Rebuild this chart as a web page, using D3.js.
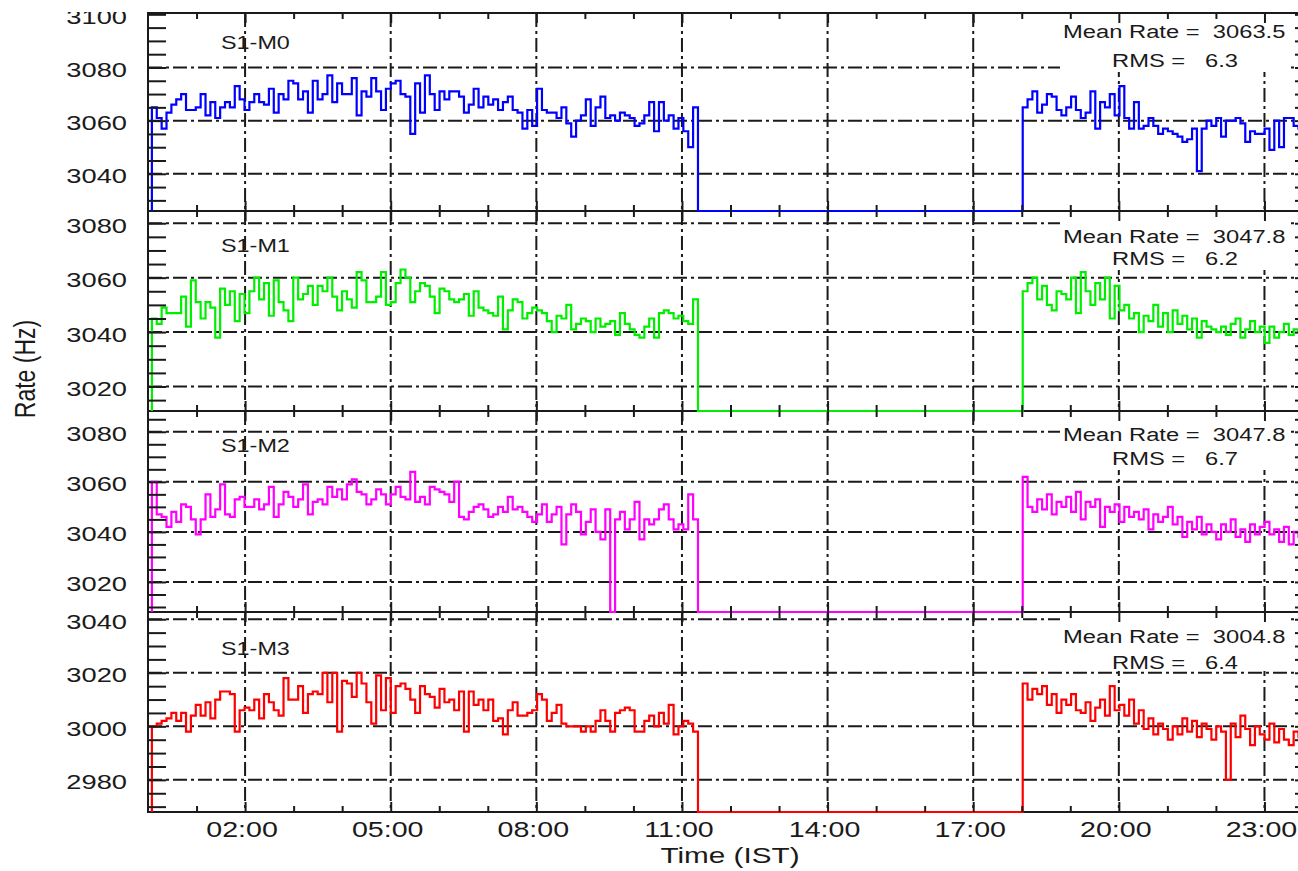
<!DOCTYPE html>
<html><head><meta charset="utf-8">
<script src="https://cdn.jsdelivr.net/npm/d3@7"></script>
<style>
body{margin:0;background:#fff;}
svg{display:block;font-family:"Liberation Sans",Arial,sans-serif;}
</style></head><body>
<svg id="c" width="1298" height="871"></svg>
<script>
// ---------------- DATA ----------------
const panelNames = ["S1-M0", "S1-M1", "S1-M2", "S1-M3"];
const meanRates = ["3063.5", "3047.8", "3047.8", "3004.8"];
const rmsValues = ["6.3", "6.2", "6.7", "6.4"];
const lineColors = ["#0000ff", "#00ee00", "#ff00ff", "#ff0000"];
const yDomains = [[3026, 3100.5], [3011, 3084.5], [3008, 3088.3], [2968, 3042.7]];
const yTickValues = [[3040, 3060, 3080, 3100], [3020, 3040, 3060, 3080], [3020, 3040, 3060, 3080], [2980, 3000, 3020, 3040]];
const xTickHours = [2, 5, 8, 11, 14, 17, 20, 23];
const xTickLabels = ["02:00", "05:00", "08:00", "11:00", "14:00", "17:00", "20:00", "23:00"];
const xDomainHours = [0, 24];
const morningStart = 0.08, morningEnd = 11.33;
const eveningStart = 18.02, eveningEnd = 24.0;

const m0Morning = [3065,3061,3057,3063,3066,3068,3070,3064,3064,3065,
 3070,3062,3067,3061,3065,3067,3065,3073,3068,3064,
 3067,3070,3067,3066,3072,3063,3070,3068,3075,3074,
 3068,3071,3063,3075,3068,3070,3077,3067,3074,3070,
 3070,3076,3062,3071,3069,3076,3071,3064,3072,3074,
 3075,3070,3069,3055,3074,3063,3077,3070,3064,3071,
 3068,3071,3071,3069,3063,3066,3072,3065,3069,3066,
 3068,3064,3067,3069,3064,3063,3057,3064,3058,3072,
 3064,3063,3063,3061,3065,3059,3054,3060,3062,3068,
 3058,3065,3069,3061,3062,3060,3063,3062,3061,3058,
 3059,3062,3067,3056,3067,3060,3062,3057,3061,3056,
 3050,3065];
const m0Evening = [3065,3068,3071,3063,3066,3070,3069,3064,3062,3065,
 3069,3064,3061,3063,3071,3057,3067,3065,3070,3062,
 3073,3061,3057,3067,3057,3058,3061,3058,3055,3057,
 3056,3055,3054,3052,3053,3057,3041,3057,3060,3058,
 3061,3054,3060,3060,3061,3059,3052,3056,3055,3055,
 3057,3049,3060,3050,3061,3061,3058,3057,3059,3056];

const m1Morning = [3045,3043,3049,3047,3047,3047,3053,3042,3059,3051,
 3045,3051,3049,3038,3056,3050,3055,3044,3054,3047,
 3055,3060,3052,3058,3046,3059,3051,3048,3044,3060,
 3052,3054,3057,3050,3057,3055,3060,3053,3048,3055,
 3052,3049,3062,3059,3051,3051,3053,3062,3050,3051,
 3058,3063,3060,3051,3055,3058,3057,3053,3047,3056,
 3055,3052,3051,3052,3054,3046,3055,3049,3048,3047,
 3046,3053,3041,3048,3052,3051,3045,3047,3049,3048,
 3047,3044,3040,3046,3045,3050,3041,3043,3045,3044,
 3040,3045,3042,3043,3044,3039,3047,3043,3041,3039,
 3038,3042,3045,3038,3047,3048,3047,3045,3046,3044,
 3043,3052];
const m1Evening = [3055,3058,3060,3052,3057,3050,3048,3055,3054,3052,
 3060,3047,3062,3055,3050,3058,3052,3060,3045,3057,
 3048,3050,3045,3047,3040,3046,3044,3050,3042,3047,
 3040,3048,3043,3046,3041,3045,3038,3044,3042,3041,
 3040,3042,3039,3043,3045,3038,3041,3044,3040,3042,
 3036,3042,3038,3040,3043,3039,3041,3040,3042,3040];

const m2Morning = [3060,3047,3046,3042,3048,3044,3051,3050,3045,3039,
 3045,3055,3046,3049,3059,3047,3046,3053,3054,3050,
 3050,3053,3049,3051,3058,3046,3051,3056,3054,3050,
 3053,3059,3047,3052,3053,3051,3058,3054,3057,3053,
 3059,3061,3056,3055,3051,3053,3057,3055,3051,3055,
 3058,3054,3053,3064,3052,3054,3051,3058,3057,3056,
 3055,3052,3060,3046,3045,3048,3050,3051,3049,3046,
 3047,3050,3048,3054,3049,3050,3048,3046,3044,3047,
 3051,3044,3047,3050,3035,3047,3051,3048,3039,3044,
 3049,3040,3037,3049,0,3045,3048,3041,3045,3052,
 3037,3045,3043,3045,3049,3051,3045,3041,3043,3041,
 3055,3045];
const m2Evening = [3062,3050,3048,3053,3049,3055,3047,3052,3050,3054,
 3048,3056,3045,3052,3050,3053,3042,3050,3048,3051,
 3044,3050,3046,3048,3045,3049,3041,3047,3044,3046,
 3050,3043,3046,3038,3044,3041,3046,3039,3043,3040,
 3037,3043,3040,3045,3038,3041,3036,3043,3039,3042,
 3044,3039,3041,3036,3042,3035,3040,3038,3041,3039];

const m3Morning = [3000,3001,3002,3003,3005,3002,3005,2998,3004,3008,
 3004,3009,3003,3010,3013,3013,3012,2998,3006,3007,
 3006,3010,3003,3012,3009,3006,3004,3018,3010,3010,
 3015,3005,3012,3013,3012,3020,3009,3020,2998,3017,
 3016,3011,3020,3016,3009,3001,3019,3006,3018,3005,
 3015,3016,3014,3010,3005,3015,3012,3011,3007,3014,
 3009,3010,3006,3013,2998,3013,3008,3010,3006,3010,
 3002,3003,2997,3006,3009,3004,3004,3005,3006,3012,
 3010,3002,3005,3008,3001,3000,3000,3000,2998,3000,
 2998,3002,3006,3002,2998,3005,3006,3007,3006,2998,
 2998,3002,3004,3000,3005,3001,3008,2997,3000,3002,
 3001,2998];
const m3Evening = [3016,3010,3014,3012,3015,3008,3012,3005,3010,3008,
 3012,3006,3005,3009,3002,3007,3010,3004,3015,3006,
 3008,3004,3010,3001,3006,2999,3003,2997,3001,2999,
 2995,3000,2997,3003,2998,3002,2996,3001,2999,2995,
 3000,2998,2980,3001,2996,3004,2999,2993,3000,2997,
 2995,3001,2994,2999,2995,2993,2998,2996,2999,2997];

const morningSeries = [m0Morning, m1Morning, m2Morning, m3Morning];
const eveningSeries = [m0Evening, m1Evening, m2Evening, m3Evening];

// ---------------- LAYOUT ----------------
const xLeft = 148, xRight = 1313;
const panelTop = [13, 211, 411, 612];
const panelBottom = [211, 411, 612, 812];
const nameBaseline = [36, 41, 41, 43];
const meanBaseline = [25, 32, 30, 31];
const rmsBaseline = [54, 54, 54, 57];
const INK = "#1a1a1a";
const GRID = "#1a1a1a";
const GRID_DASH = "14,4,3,4";
const SX = 1.3;   // horizontal stretch of the lettering

const svg = d3.select("#c");
const defs = svg.append("defs");
const gridLayer = svg.append("g");
const boxLayer = svg.append("g");
const frameLayer = svg.append("g");
const dataLayer = svg.append("g");
const tickLayer = svg.append("g");
const textLayer = svg.append("g");

const x = d3.scaleLinear().domain(xDomainHours).range([xLeft, xRight]);

function stepPoints(start, end, vals) {
  const w = (end - start) / vals.length;
  const pts = [];
  vals.forEach((v, i) => { pts.push([start + i * w, v]); pts.push([start + (i + 1) * w, v]); });
  return pts;
}

panelNames.forEach((name, i) => {
  const top = panelTop[i], bot = panelBottom[i];
  const y = d3.scaleLinear().domain(yDomains[i]).range([bot, top]).clamp(true);
  const floor = yDomains[i][0];

  const clipId = "clip" + i;
  defs.append("clipPath").attr("id", clipId).append("rect")
    .attr("x", xLeft).attr("y", top - 2).attr("width", xRight - xLeft).attr("height", bot - top + 4);

  // horizontal grid
  gridLayer.append("g").selectAll("line").data(yTickValues[i].filter(v => y(v) > top + 3)).join("line")
    .attr("x1", xLeft).attr("x2", xRight).attr("y1", d => y(d)).attr("y2", d => y(d))
    .attr("stroke", GRID).attr("stroke-width", 2).attr("stroke-dasharray", GRID_DASH);
  // vertical grid
  gridLayer.append("g").selectAll("line").data(xTickHours).join("line")
    .attr("x1", d => x(d)).attr("x2", d => x(d)).attr("y1", top).attr("y2", bot)
    .attr("stroke", GRID).attr("stroke-width", 2).attr("stroke-dasharray", GRID_DASH);

  // annotation background
  boxLayer.append("rect").attr("x", 1060).attr("y", top + 1).attr("width", 230).attr("height", 58).attr("fill", "#fff");

  // frame
  frameLayer.append("rect").attr("x", xLeft).attr("y", top).attr("width", xRight - xLeft).attr("height", bot - top)
    .attr("fill", "none").attr("stroke", INK).attr("stroke-width", 2);

  // data
  const pts = [[morningStart, floor]]
    .concat(stepPoints(morningStart, morningEnd, morningSeries[i]))
    .concat([[morningEnd, floor], [eveningStart, floor]])
    .concat(stepPoints(eveningStart, eveningEnd, eveningSeries[i]));
  const line = d3.line().x(d => x(d[0])).y(d => y(d[1]));
  dataLayer.append("path").attr("d", line(pts)).attr("fill", "none")
    .attr("stroke", lineColors[i]).attr("stroke-width", 2.2).attr("stroke-linejoin", "miter")
    .attr("clip-path", `url(#${clipId})`);

  // y ticks (left and right)
  const minorY = d3.range(Math.ceil(yDomains[i][0] / 5) * 5, yDomains[i][1], 5).filter(v => v % 20 !== 0);
  const axL = d3.axisLeft(y).tickValues(minorY.concat(yTickValues[i])).tickSize(-18).tickFormat("").tickSizeOuter(0);
  const gl = tickLayer.append("g").attr("transform", `translate(${xLeft},0)`).call(axL);
  const axR = d3.axisRight(y).tickValues(minorY.concat(yTickValues[i])).tickSize(-18).tickFormat("").tickSizeOuter(0);
  const gr = tickLayer.append("g").attr("transform", `translate(${xRight},0)`).call(axR);
  [gl, gr].forEach(s => { s.select(".domain").remove(); s.selectAll("line").attr("stroke", INK).attr("stroke-width", 2); });

  // x ticks (bottom and top)
  const minorX = d3.range(1, 24).filter(h => !xTickHours.includes(h));
  const axB = d3.axisBottom(x).tickValues(minorX).tickSize(-6).tickFormat("").tickSizeOuter(0);
  const axB2 = d3.axisBottom(x).tickValues(xTickHours).tickSize(-10).tickFormat("").tickSizeOuter(0);
  const axT = d3.axisTop(x).tickValues(minorX).tickSize(-6).tickFormat("").tickSizeOuter(0);
  const axT2 = d3.axisTop(x).tickValues(xTickHours).tickSize(-10).tickFormat("").tickSizeOuter(0);
  [[axB, bot], [axB2, bot], [axT, top], [axT2, top]].forEach(([ax, yy]) => {
    const s = tickLayer.append("g").attr("transform", `translate(0,${yy})`).call(ax);
    s.select(".domain").remove();
    s.selectAll("line").attr("stroke", INK).attr("stroke-width", 2);
  });

  // y tick labels
  textLayer.append("g").selectAll("text").data(yTickValues[i]).join("text")
    .attr("transform", d => `translate(127,${y(d) + 9.5}) scale(${SX},1)`)
    .attr("text-anchor", "end").attr("font-size", 21).attr("fill", INK).text(d => d);

  // panel name
  textLayer.append("text").attr("transform", `translate(221,${top + nameBaseline[i]}) scale(${SX},1)`)
    .attr("font-size", 18).attr("fill", INK).text(name);

  // stats
  textLayer.append("text").attr("transform", `translate(1063,${top + meanBaseline[i]}) scale(1.32,1)`)
    .attr("font-size", 18).attr("fill", INK).style("white-space", "pre").text("Mean Rate =  " + meanRates[i]);
  textLayer.append("text").attr("transform", `translate(1112,${top + rmsBaseline[i]}) scale(1.32,1)`)
    .attr("font-size", 18).attr("fill", INK).style("white-space", "pre").text("RMS =   " + rmsValues[i]);
});

// x tick labels
textLayer.append("g").selectAll("text").data(xTickHours).join("text")
  .attr("transform", (d, k) => `translate(${x(d) - 3},837) scale(${SX},1)`)
  .attr("text-anchor", "middle").attr("font-size", 22).attr("fill", INK)
  .text((d, k) => xTickLabels[k]);

// axis titles
textLayer.append("text").attr("transform", `translate(730,863) scale(1.35,1)`)
  .attr("text-anchor", "middle").attr("font-size", 22).attr("fill", INK).text("Time (IST)");
textLayer.append("text").attr("transform", `translate(35,369) scale(${SX},1) rotate(-90)`)
  .attr("text-anchor", "middle").attr("font-size", 23).attr("fill", INK).text("Rate (Hz)");

// the reference is cut just above the top frame
textLayer.append("rect").attr("x", 0).attr("y", 0).attr("width", xLeft - 1).attr("height", 12).attr("fill", "#fff");
</script></body></html>
